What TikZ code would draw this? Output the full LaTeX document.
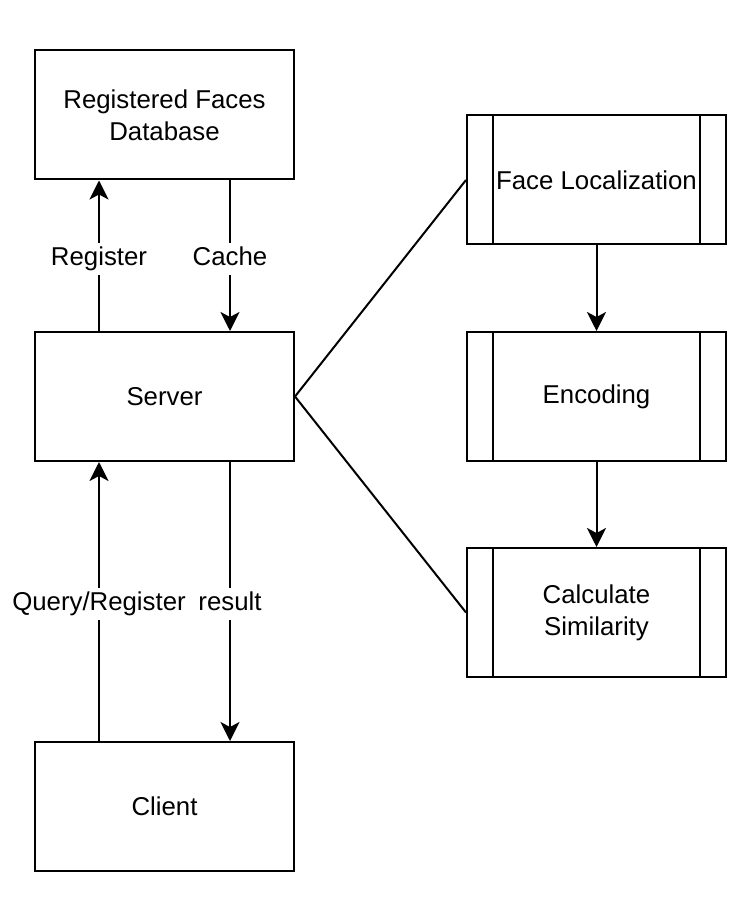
\documentclass[tikz,border=0pt]{standalone}
\usepackage{fontspec}
\setmainfont{Liberation Sans}
\usetikzlibrary{arrows.meta,calc}
\begin{document}
\begin{tikzpicture}[x=0.5pt,y=-0.5pt,
  every node/.style={font=\fontsize{12.9}{16}\selectfont},
  box/.style={draw,line width=1pt,minimum width=129.5pt,minimum height=64.5pt,align=center,inner sep=0pt},
  proc/.style={box,path picture={
      \draw[line width=1pt] ([xshift=13pt]path picture bounding box.north west) -- ([xshift=13pt]path picture bounding box.south west);
      \draw[line width=1pt] ([xshift=-13pt]path picture bounding box.north east) -- ([xshift=-13pt]path picture bounding box.south east);}},
  arr/.style={line width=1pt,-{Stealth[length=9.5pt,width=9.5pt,inset=2.5pt]}},
  conn/.style={line width=1pt},
  lbl/.style={fill=white,inner sep=2pt,text height=9.3pt,text depth=2.7pt,yshift=-1.4pt}]
\useasboundingbox (0,0) rectangle (752,898);
\node[box] (db) at (164.5,115) {Registered Faces\\Database};
\node[box] (srv) at (164.5,396.5) {Server};
\node[box] (cli) at (164.5,806.5) {Client};
\node[proc] (fl) at (596.5,180) {Face Localization};
\node[proc] (enc) at (596.5,396.5) {Encoding};
\node[proc] (cs) at (596.5,612.5) {Calculate\\Similarity};
\draw[arr] ([xshift=-32.75pt]srv.north) -- node[lbl] {Register} ([xshift=-32.75pt]db.south);
\draw[arr] ([xshift=32.75pt]db.south) -- node[lbl] {Cache} ([xshift=32.75pt]srv.north);
\draw[arr] ([xshift=-32.75pt]cli.north) -- node[lbl] {Query/Register} ([xshift=-32.75pt]srv.south);
\draw[arr] ([xshift=32.75pt]srv.south) -- node[lbl] {result} ([xshift=32.75pt]cli.north);
\draw[conn] (srv.east) -- (fl.west);
\draw[conn] (srv.east) -- (cs.west);
\draw[arr] (fl.south) -- (enc.north);
\draw[arr] (enc.south) -- (cs.north);
\end{tikzpicture}
\end{document}
